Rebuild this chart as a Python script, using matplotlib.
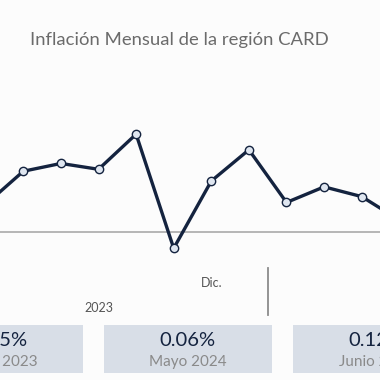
import matplotlib.pyplot as plt
from matplotlib.patches import Rectangle

# Inflacion mensual (%), jun-2023 .. may-2024
meses = ["Jun", "Jul", "Ago", "Sep", "Oct", "Nov", "Dic.",
         "Ene", "Feb", "Mar", "Abr", "May"]
inflacion = [0.14, 0.31, 0.35, 0.32, 0.50, -0.085, 0.26,
             0.42, 0.15, 0.23, 0.18, 0.06]

# tarjetas de resumen
tarjeta_valores = ["0.25%", "0.06%", "0.12%"]
tarjeta_etiquetas = ["Mayo 2023", "Mayo 2024", "Junio 2024"]

FONT = ["Lato", "DejaVu Sans"]
plt.rcParams["font.family"] = FONT

W = H = 380
fig = plt.figure(figsize=(3.8, 3.8), dpi=100)
fig.patch.set_facecolor("#fcfcfc")


def fx(px):
  return px / W


def fy(py):
  return 1 - py / H


fig.text(fx(179), fy(40), "Inflación Mensual de la región CARD",
         ha="center", va="center", fontsize=13.3, color="#6b6b6b")

# grafico de linea
ax = fig.add_axes([0, fy(260), 1, 150 / H])
ax.set_facecolor("none")
x = list(range(len(inflacion)))
ax.axhline(0, color="#b0b0b0", lw=1.3, zorder=1)
ax.plot(x, inflacion, color="#14233f", lw=2.4, marker="o", ms=6,
        mfc="#dfe6f0", mec="#14233f", mew=1.0, zorder=3,
        solid_joinstyle="miter")
ax.set_xlim(0.380, 10.487)
ax.set_ylim(-0.145, 0.624)
ax.axis("off")

# etiquetas del eje
fig.text(fx(211.7), fy(283), meses[6], ha="center", va="center",
         fontsize=9, color="#555555")
fig.text(fx(99), fy(308), "2023", ha="center", va="center",
         fontsize=9, color="#555555")
fig.add_artist(plt.Line2D([fx(268), fx(268)], [fy(268), fy(315)],
                          color="#8c8c8c", lw=1.3))

# tarjetas
card_w, card_h = 167.7, 47.7
centros = [-1, 187.8, 376.5]
for c, val, lab in zip(centros, tarjeta_valores, tarjeta_etiquetas):
  fig.add_artist(Rectangle((fx(c - card_w / 2), fy(325 + card_h)),
                           card_w / W, card_h / H, facecolor="#d8dee7",
                           edgecolor="none"))
  fig.text(fx(c), fy(340), val, ha="center", va="center",
           fontsize=14.5, color="#14233f")
  fig.text(fx(c), fy(362), lab, ha="center", va="center",
           fontsize=11, color="#8a8a8a")

fig.savefig("out.png", dpi=100, facecolor=fig.get_facecolor())
